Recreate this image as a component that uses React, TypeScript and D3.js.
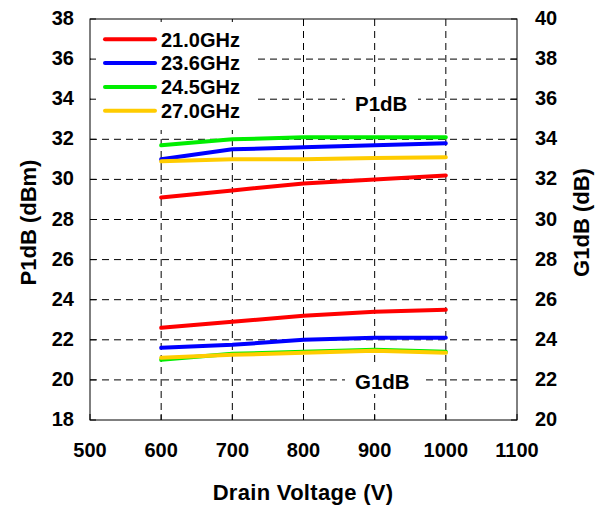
import React from "react";
import * as d3 from "d3";

const voltages = [600, 700, 800, 900, 1000];
const seriesNames = ["21.0GHz", "23.6GHz", "24.5GHz", "27.0GHz"];
const seriesColors = ["#ff0000", "#0000ff", "#00ee00", "#ffcc00"];
const p1dbValues = [
  [29.1, 29.45, 29.8, 30.0, 30.2],
  [31.0, 31.5, 31.6, 31.7, 31.8],
  [31.7, 32.0, 32.1, 32.1, 32.1],
  [30.9, 31.0, 31.0, 31.07, 31.1],
];
const g1dbValues = [
  [24.6, 24.9, 25.2, 25.4, 25.5],
  [23.6, 23.75, 24.0, 24.1, 24.1],
  [23.0, 23.3, 23.4, 23.5, 23.4],
  [23.1, 23.25, 23.35, 23.45, 23.35],
];
const xTicks = [500, 600, 700, 800, 900, 1000, 1100];
const leftTicks = [18, 20, 22, 24, 26, 28, 30, 32, 34, 36, 38];
const rightTicks = [20, 22, 24, 26, 28, 30, 32, 34, 36, 38, 40];

const L = 90, R = 517, T = 19, B = 420;
const FONT = "'Liberation Sans', Arial, sans-serif";

export default function App() {
  const x = d3.scaleLinear().domain([500, 1100]).range([L, R]);
  const yL = d3.scaleLinear().domain([18, 38]).range([B, T]);
  const yR = d3.scaleLinear().domain([20, 40]).range([B, T]);
  const lineL = d3.line<number>().x((_, i) => x(voltages[i])).y((d) => yL(d));
  const lineR = d3.line<number>().x((_, i) => x(voltages[i])).y((d) => yR(d));
  const drawOrder = [0, 1, 2, 3];
  return (
    <svg width={602} height={506} style={{ position: "absolute", left: 0, top: 0 }}>
      <rect width={602} height={506} fill="#fff" />
      {/* grid */}
      {xTicks.slice(1, -1).map((v) => (
        <line key={"gx" + v} x1={x(v)} x2={x(v)} y1={T} y2={B} stroke="#000" strokeWidth={1} strokeDasharray="7,5" />
      ))}
      {leftTicks.slice(1, -1).map((v) => (
        <line key={"gy" + v} x1={L} x2={R} y1={yL(v)} y2={yL(v)} stroke="#000" strokeWidth={1} strokeDasharray="7,5" />
      ))}
      {/* label backgrounds */}
      <rect x={91} y={22} width={162} height={108} fill="#fff" />
      <rect x={345} y={90} width={73} height={27} fill="#fff" />
      <rect x={345} y={366} width={81} height={28} fill="#fff" />
      {/* ticks */}
      {leftTicks.map((v) => (
        <line key={"tl" + v} x1={L} x2={L + 6} y1={yL(v)} y2={yL(v)} stroke="#000" />
      ))}
      {rightTicks.map((v) => (
        <line key={"tr" + v} x1={R - 6} x2={R} y1={yR(v)} y2={yR(v)} stroke="#000" />
      ))}
      {xTicks.map((v) => (
        <line key={"tb" + v} x1={x(v)} x2={x(v)} y1={B} y2={B - 6} stroke="#000" />
      ))}
      <rect x={L} y={T} width={R - L} height={B - T} fill="none" stroke="#000" strokeWidth={1} />
      {/* lines */}
      {drawOrder.map((i) => (
        <path key={"p" + i} d={lineL(p1dbValues[i]) || ""} fill="none" stroke={seriesColors[i]} strokeWidth={4} strokeLinejoin="round" strokeLinecap="round" />
      ))}
      {drawOrder.map((i) => (
        <path key={"g" + i} d={lineR(g1dbValues[i]) || ""} fill="none" stroke={seriesColors[i]} strokeWidth={4} strokeLinejoin="round" strokeLinecap="round" />
      ))}
      {/* tick labels */}
      <g fontFamily={FONT} fontWeight="bold" fill="#000">
        <g fontSize={20}>
          {leftTicks.map((v) => (
            <text key={"ll" + v} x={74} y={yL(v) + 6} textAnchor="end">{v}</text>
          ))}
          {rightTicks.map((v) => (
            <text key={"rl" + v} x={535} y={yR(v) + 6} textAnchor="start">{v}</text>
          ))}
          {xTicks.map((v) => (
            <text key={"xl" + v} x={x(v)} y={457} textAnchor="middle">{v}</text>
          ))}
          {seriesNames.map((n, i) => (
            <g key={"lg" + i}>
              <line x1={105} x2={155} y1={39.3 + i * 23.8} y2={39.3 + i * 23.8} stroke={seriesColors[i]} strokeWidth={4} strokeLinecap="round" />
              <text x={161} y={46.5 + i * 23.8}>{n}</text>
            </g>
          ))}
        </g>
        <g fontSize={22}>
          <text x={303} y={500} textAnchor="middle" letterSpacing={0.3}>Drain Voltage (V)</text>
          <text transform={`translate(36,${(T + B) / 2 + 3}) rotate(-90)`} textAnchor="middle">P1dB (dBm)</text>
          <text transform={`translate(589,${(T + B) / 2 + 3}) rotate(-90)`} textAnchor="middle">G1dB (dB)</text>
        </g>
        <g fontSize={20.5}>
          <text x={355} y={111}>P1dB</text>
          <text x={355} y={389}>G1dB</text>
        </g>
      </g>
    </svg>
  );
}
